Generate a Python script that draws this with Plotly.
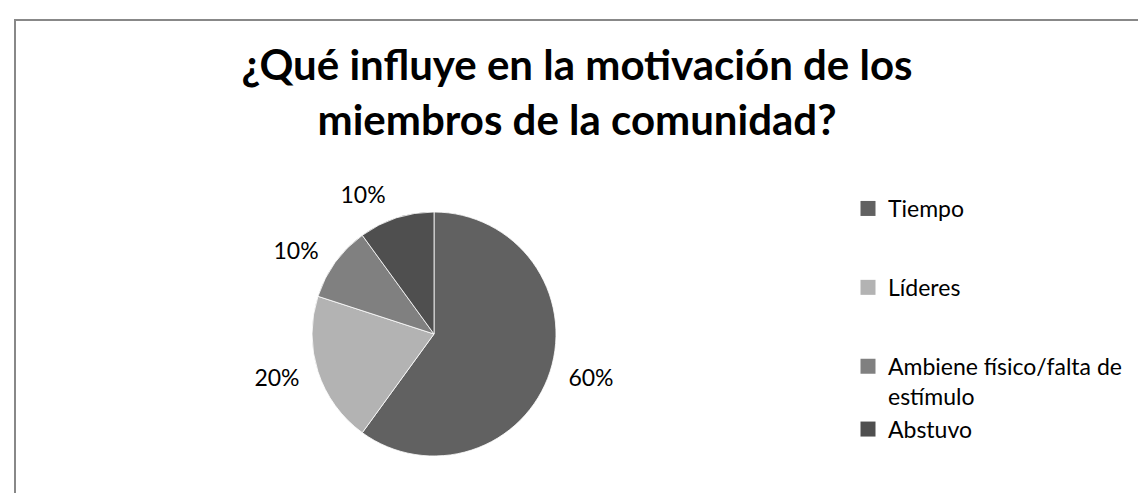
import plotly.graph_objects as go

# Data
categories = ["Tiempo", "Líderes", "Ambiene físico/falta de<br>estímulo", "Abstuvo"]
values = [60, 20, 10, 10]
colors = ["#616161", "#b3b3b3", "#808080", "#4f4f4f"]
legend_groups = ["g1", "g2", "g3", "g3"]

title_text = "¿Qué influye en la motivación de los<br>miembros de la comunidad?"

W, H = 1146, 493
FONT = "Lato, Calibri, Carlito, sans-serif"
CX, CY, R = 426, 326, 122      # pie centre / radius in pixels
R_LBL = 134                    # radius used to place the percentage labels


def dom(r):
    return dict(x=[(CX - r) / W, (CX + r) / W],
                y=[(H - CY - r) / H, (H - CY + r) / H])


fig = go.Figure()

# the pie itself
fig.add_trace(go.Pie(
    labels=categories,
    values=values,
    marker=dict(colors=colors, line=dict(color="#ffffff", width=0.8)),
    sort=False,
    direction="clockwise",
    rotation=0,
    textinfo="none",
    showlegend=False,
    domain=dom(R),
))

# same data, transparent, only to carry the outside percentage labels a bit further out
fig.add_trace(go.Pie(
    labels=categories,
    values=values,
    marker=dict(colors=["rgba(0,0,0,0)"] * len(values), line=dict(width=0)),
    sort=False,
    direction="clockwise",
    rotation=0,
    textinfo="percent",
    textposition="outside",
    textfont=dict(family=FONT, size=23, color="#000000"),
    hoverinfo="skip",
    showlegend=False,
    domain=dom(R_LBL),
))

# legend entries (one per category, same colours as the slices)
for cat, col, grp in zip(categories, colors, legend_groups):
    fig.add_trace(go.Scatter(
        x=[None], y=[None], mode="markers",
        marker=dict(symbol="square", size=15, color=col, line=dict(width=0)),
        name=cat, legendgroup=grp, showlegend=True, hoverinfo="skip",
    ))

fig.update_layout(
    width=W, height=H,
    margin=dict(l=0, r=0, t=0, b=0),
    paper_bgcolor="#ffffff",
    plot_bgcolor="#ffffff",
    xaxis=dict(visible=False),
    yaxis=dict(visible=False),
    title=dict(
        text=title_text,
        x=569 / W, xanchor="center",
        y=1 - 72 / H, yanchor="top", yref="container",
        font=dict(family=FONT, size=42, color="#000000", weight="bold"),
    ),
    legend=dict(
        x=840 / W, xanchor="left",
        y=1 - 179 / H, yanchor="top",
        font=dict(family=FONT, size=23, color="#000000"),
        tracegroupgap=46,
        valign="top",
        traceorder="grouped",
        bgcolor="rgba(0,0,0,0)",
    ),
    shapes=[dict(
        type="rect", xref="paper", yref="paper",
        x0=7 / W, x1=1.02, y0=-0.05, y1=1 - 12 / H,
        line=dict(color="#888888", width=2),
        fillcolor="rgba(0,0,0,0)", layer="below",
    )],
)

fig.write_html("out.html")
